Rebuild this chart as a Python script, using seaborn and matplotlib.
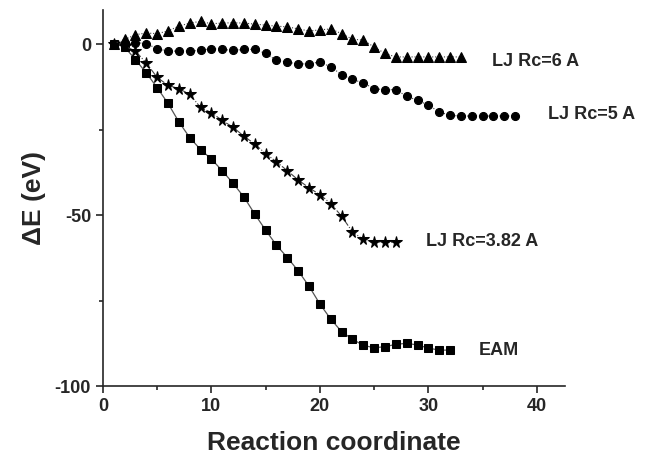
import numpy as np
import pandas as pd
import matplotlib
matplotlib.use("Agg")
import matplotlib.pyplot as plt
import seaborn as sns
from matplotlib.ticker import MultipleLocator

# ---- data ----
x_rc6 = list(range(1, 34))
y_rc6 = [0.2, 1.4, 2.8, 3.3, 3.1, 3.9, 5.3, 6.2, 6.7, 6.0, 6.2, 6.3, 6.2, 5.9, 5.6,
         5.3, 5.1, 4.5, 3.9, 4.2, 4.5, 3.1, 1.5, 1.2, -0.8, -2.7, -3.7, -3.7, -3.7,
         -3.7, -3.7, -3.7, -3.7]

x_rc5 = list(range(1, 39))
y_rc5 = [0.0, 0.3, 0.5, 0.2, -1.3, -2.0, -2.0, -2.0, -1.8, -1.3, -1.5, -1.8, -1.5,
         -1.5, -2.7, -4.7, -5.2, -5.8, -5.7, -5.2, -6.6, -8.9, -10.3, -11.3, -13.0,
         -13.3, -13.3, -15.2, -16.4, -17.8, -19.8, -20.8, -21.0, -21.0, -21.0, -21.0,
         -21.0, -21.0]

x_rc382 = list(range(1, 28))
y_rc382 = [0.0, -0.5, -2.0, -5.5, -9.7, -12.0, -13.0, -14.6, -18.5, -20.0, -22.3,
           -24.3, -26.9, -29.2, -32.0, -34.4, -37.0, -39.7, -42.0, -44.0, -46.6,
           -50.3, -54.9, -57.1, -57.9, -57.9, -57.9]

x_eam = list(range(1, 33))
y_eam = [0.2, -0.8, -4.5, -8.4, -12.7, -17.3, -22.7, -27.3, -30.8, -33.6, -37.0,
         -40.7, -44.7, -49.7, -54.4, -58.8, -62.4, -66.3, -70.8, -76.0, -80.4,
         -84.1, -86.3, -88.1, -88.8, -88.5, -87.8, -87.5, -88.0, -88.9, -89.5, -89.5]

labels = ["LJ Rc=6 A", "LJ Rc=5 A", "LJ Rc=3.82 A", "EAM"]

# ---- plotting ----
sns.set_style("ticks")
plt.rcParams["font.family"] = ["Liberation Sans", "DejaVu Sans"]
plt.rcParams["font.weight"] = "bold"
plt.rcParams["axes.unicode_minus"] = False

fig = plt.figure(figsize=(6.64, 4.59), dpi=100)
ax = fig.add_axes([0.155, 0.159, 0.696, 0.819])

df6 = pd.DataFrame({"x": x_rc6, "y": y_rc6})
df5 = pd.DataFrame({"x": x_rc5, "y": y_rc5})
df3 = pd.DataFrame({"x": x_rc382, "y": y_rc382})
dfe = pd.DataFrame({"x": x_eam, "y": y_eam})

sns.lineplot(data=dfe, x="x", y="y", ax=ax, color="#555555", lw=0.9,
             marker="s", markersize=5.2, markerfacecolor="black",
             markeredgecolor="black", linestyle="-")
sns.lineplot(data=df3, x="x", y="y", ax=ax, color="#444444", lw=0.8,
             marker="*", markersize=8.5, markerfacecolor="black",
             markeredgecolor="black", linestyle="-.")
sns.lineplot(data=df5, x="x", y="y", ax=ax, color="#444444", lw=0.8,
             marker="o", markersize=5.8, markerfacecolor="black",
             markeredgecolor="black", linestyle=":")
sns.lineplot(data=df6, x="x", y="y", ax=ax, color="#444444", lw=0.8,
             marker="^", markersize=7, markerfacecolor="black",
             markeredgecolor="black", linestyle=":")

tk = dict(fontsize=13, fontweight="bold", va="center", ha="left")
ax.text(35.9, -5.0, labels[0], **tk)
ax.text(41.0, -20.5, labels[1], **tk)
ax.text(29.8, -57.6, labels[2], **tk)
ax.text(34.6, -89.5, labels[3], **tk)

ax.set_xlim(0, 42.6)
ax.set_ylim(-100, 10)
ax.xaxis.set_major_locator(MultipleLocator(10))
ax.xaxis.set_minor_locator(MultipleLocator(5))
ax.yaxis.set_major_locator(MultipleLocator(50))
ax.yaxis.set_minor_locator(MultipleLocator(25))
ax.tick_params(which="major", direction="out", length=5, width=1.2, labelsize=13)
ax.tick_params(which="minor", direction="out", length=3, width=1.2)
for lab in ax.get_xticklabels() + ax.get_yticklabels():
    lab.set_fontweight("bold")
for s in ["left", "bottom"]:
    ax.spines[s].set_linewidth(1.2)
ax.spines["top"].set_visible(False)
ax.spines["right"].set_visible(False)

ax.set_xlabel("Reaction coordinate", fontsize=19, fontweight="bold", labelpad=12)
ax.set_ylabel("ΔE (eV)", fontsize=19, fontweight="bold", labelpad=6)

fig.savefig("out.png", dpi=100)
